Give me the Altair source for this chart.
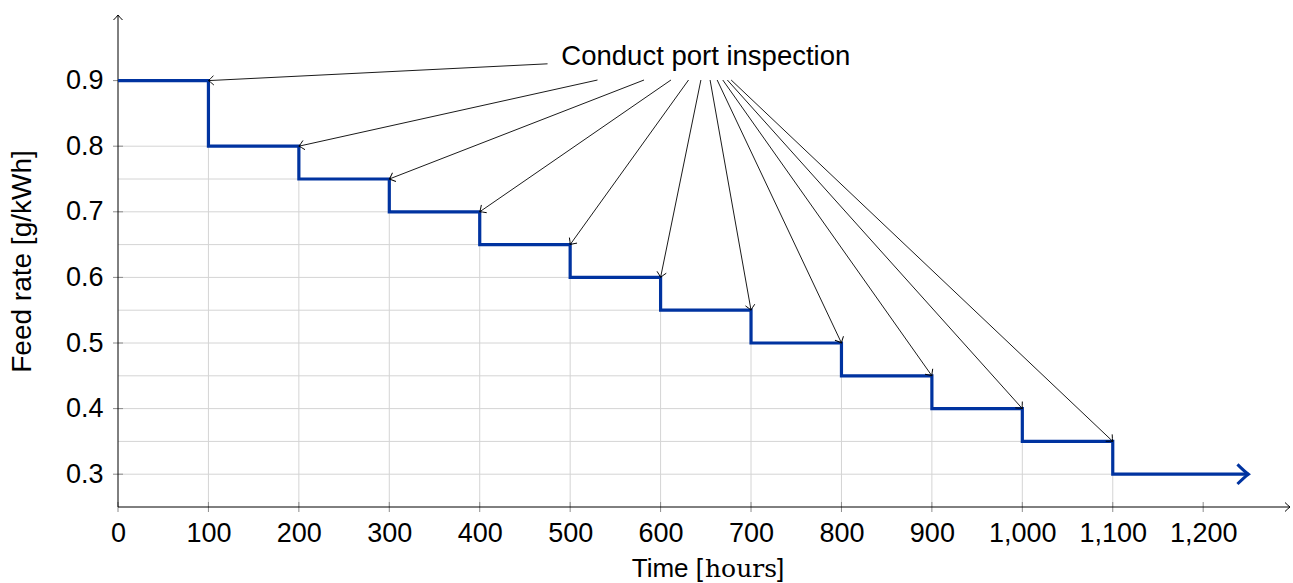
import math

import altair as alt
import pandas as pd

# Feed-rate schedule: the rate is held constant between inspections
times = [0, 100, 200, 300, 400, 500, 600, 700, 800, 900, 1000, 1100]
rates = [0.9, 0.8, 0.75, 0.7, 0.65, 0.6, 0.55, 0.5, 0.45, 0.4, 0.35, 0.3]
end_time = 1250

x_ticks = [0, 100, 200, 300, 400, 500, 600, 700, 800, 900, 1000, 1100, 1200]
y_ticks = [0.3, 0.4, 0.5, 0.6, 0.7, 0.8, 0.9]

x_domain = [0, 1296]
y_domain = [0.25, 1.0]

label_text = "Conduct port inspection"
label_h, label_v = 650, 0.9375          # centre of the label box (data units)
label_half_w, label_half_h = 175, 0.0366  # half size of the label box (data units)

SANS = "Liberation Sans"
SERIF = "DejaVu Serif"
BLUE = "#0033a0"
GRID = "#d4d4d4"
W, H = 1172, 492

kx = W / (x_domain[1] - x_domain[0])
ky = H / (y_domain[1] - y_domain[0])

# open "to"-style arrow head, tip at the origin, pointing along +x
HEAD = "M-1,-0.9Q-0.35,-0.25 0,0Q-0.35,0.25 -1,0.9"

xs = alt.Scale(domain=x_domain, nice=False, zero=False)
ys = alt.Scale(domain=y_domain, nice=False, zero=False)

x_axis = alt.Axis(values=x_ticks, format=",d", labelFont=SANS, labelFontSize=27,
                  labelColor="black", labelPadding=13, ticks=False, tickSize=0,
                  labelFlush=False, labelOverlap=False,
                  domain=False, grid=False, title=None)
y_axis = alt.Axis(values=y_ticks, format=".1f", labelFont=SANS, labelFontSize=27,
                  labelColor="black", labelPadding=15, ticks=False, tickSize=0,
                  labelFlush=False, labelOverlap=False,
                  domain=False, grid=False, title="Feed rate [g/kWh]",
                  titleFont=SANS, titleFontSize=28, titleFontWeight="normal",
                  titleColor="black", titlePadding=29)


def X(field="h"):
    return alt.X(f"{field}:Q", scale=xs, axis=x_axis)


def Y(field="v"):
    return alt.Y(f"{field}:Q", scale=ys, axis=y_axis)


# drop lines from every step corner to both axes
grid_rows = []
for t, v in zip(times[1:], rates[1:]):
    grid_rows.append({"h": 0, "h2": t, "v": v, "v2": v})
    grid_rows.append({"h": t, "h2": t, "v": y_domain[0], "v2": v})
grid = alt.Chart(pd.DataFrame(grid_rows)).mark_rule(color=GRID, strokeWidth=1).encode(
    x=X(), x2="h2:Q", y=Y(), y2="v2:Q")

xtick_df = pd.DataFrame({"h": x_ticks, "v": [y_domain[0]] * len(x_ticks)})
xtick = alt.Chart(xtick_df).mark_rule(color="#8c8c8c", strokeWidth=1, yOffset=-5, y2Offset=5).encode(
    x=X(), y=Y(), y2="v:Q")
ytick_df = pd.DataFrame({"h": [0] * len(y_ticks), "v": y_ticks})
ytick = alt.Chart(ytick_df).mark_rule(color="#8c8c8c", strokeWidth=1, xOffset=-5, x2Offset=5).encode(
    x=X(), x2="h:Q", y=Y())

axis_df = pd.DataFrame([
    {"h": x_domain[0], "h2": x_domain[1], "v": y_domain[0], "v2": y_domain[0]},
    {"h": x_domain[0], "h2": x_domain[0], "v": y_domain[0], "v2": y_domain[1]},
])
axes = alt.Chart(axis_df).mark_rule(color="black", strokeWidth=1).encode(
    x=X(), x2="h2:Q", y=Y(), y2="v2:Q")
axis_heads_df = pd.DataFrame([
    {"h": x_domain[1], "v": y_domain[0], "ang": 0},
    {"h": x_domain[0], "v": y_domain[1], "ang": 270},
])
axis_heads = alt.Chart(axis_heads_df).mark_point(
    shape=HEAD, size=100, filled=False, color="black", strokeWidth=1, opacity=1).encode(
    x=X(), y=Y(), angle=alt.Angle("ang:Q", scale=None))

step_df = pd.DataFrame({"h": times + [end_time], "v": rates + [rates[-1]]})
step = alt.Chart(step_df).mark_line(
    interpolate="step-after", color=BLUE, strokeWidth=3.2, strokeJoin="miter").encode(
    x=X(), y=Y())
step_head = alt.Chart(pd.DataFrame([{"h": end_time, "v": rates[-1], "ang": 0}])).mark_point(
    shape=HEAD, size=480, filled=False, color=BLUE, strokeWidth=3, opacity=1).encode(
    x=X(), y=Y(), angle=alt.Angle("ang:Q", scale=None))

# arrows from the label box border to the corner where each inspection happens
ann_rows = []
for t, v in zip(times[1:], rates[:-1]):
    dx = (t - label_h) * kx
    dy = (v - label_v) * ky
    s = min(label_half_w * kx / abs(dx) if dx else math.inf,
            label_half_h * ky / abs(dy) if dy else math.inf)
    ann_rows.append({
        "h": label_h + (t - label_h) * s,
        "v": label_v + (v - label_v) * s,
        "h2": t, "v2": v,
        "ang": math.degrees(math.atan2(-dy, dx)) % 360,
    })
ann_df = pd.DataFrame(ann_rows)
ann_lines = alt.Chart(ann_df).mark_rule(color="black", strokeWidth=0.9).encode(
    x=X(), x2="h2:Q", y=Y(), y2="v2:Q")
ann_heads = alt.Chart(ann_df).mark_point(
    shape=HEAD, size=110, filled=False, color="black", strokeWidth=0.9, opacity=1).encode(
    x=X("h2"), y=Y("v2"), angle=alt.Angle("ang:Q", scale=None))

label = alt.Chart(pd.DataFrame([{"h": label_h, "v": label_v, "txt": label_text}])).mark_text(
    font=SANS, fontSize=27.5, color="black", align="center", baseline="middle", dy=1).encode(
    x=X(), y=Y(), text="txt:N")

# x-axis title: sans text with the unit set in a serif face
title_a = alt.Chart(pd.DataFrame([{"txt": "Time ["}])).mark_text(
    font=SANS, fontSize=26, color="black", align="right", baseline="alphabetic").encode(
    x=alt.value(585), y=alt.value(562), text="txt:N")
title_b = alt.Chart(pd.DataFrame([{"txt": "hours"}])).mark_text(
    font=SERIF, fontSize=25, color="black", align="left", baseline="alphabetic").encode(
    x=alt.value(587), y=alt.value(562), text="txt:N")
title_c = alt.Chart(pd.DataFrame([{"txt": "]"}])).mark_text(
    font=SANS, fontSize=26, color="black", align="left", baseline="alphabetic").encode(
    x=alt.value(659), y=alt.value(562), text="txt:N")

chart = alt.layer(
    grid, xtick, ytick, axes, axis_heads, step, step_head,
    ann_lines, ann_heads, label, title_a, title_b, title_c,
).properties(
    width=W, height=H,
    autosize=alt.AutoSizeParams(type="none"),
    padding={"left": 118, "top": 15, "right": 3, "bottom": 76},
    background="white",
).configure_view(stroke=None)

chart.save("out.html", embed_options={"renderer": "svg", "actions": False})
